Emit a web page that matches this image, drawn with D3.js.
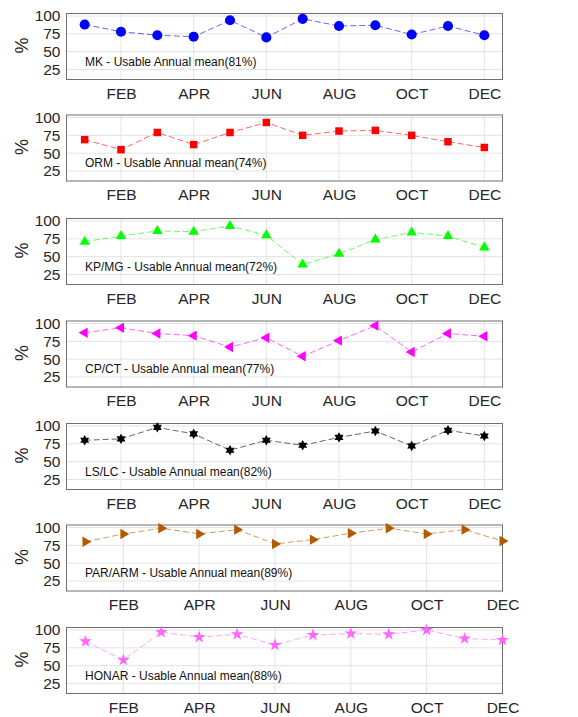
<!DOCTYPE html>
<html>
<head>
<meta charset="utf-8">
<script src="https://cdn.jsdelivr.net/npm/d3@7"></script>
<style>
  html, body { margin: 0; padding: 0; background: #fff; }
  svg { display: block; font-family: "Liberation Sans", Arial, sans-serif; }
</style>
</head>
<body>
<svg id="chart" width="578" height="717"></svg>
<script>
// Monthly usable percentage per station
const months = [1, 2, 3, 4, 5, 6, 7, 8, 9, 10, 11, 12];
const monthTicks = [2, 4, 6, 8, 10, 12];
const monthTickLabels = ["FEB", "APR", "JUN", "AUG", "OCT", "DEC"];
const yTicks = [25, 50, 75, 100];

const stations = ["MK", "ORM", "KP/MG", "CP/CT", "LS/LC", "PAR/ARM", "HONAR"];
const annualMeans = [81, 74, 72, 77, 82, 89, 88];

const mkValues    = [88, 78, 73, 71, 94, 70, 96, 86, 87, 74, 86, 73];
const ormValues   = [69, 55, 79, 62, 79, 93, 75, 81, 82, 75, 66, 58];
const kpmgValues  = [71, 79, 86, 85, 93, 80, 39, 54, 74, 84, 79, 63];
const cpctValues  = [87, 94, 86, 83, 67, 80, 54, 76, 97, 60, 86, 82];
const lslcValues  = [80, 82, 98, 89, 66, 80, 73, 84, 93, 72, 94, 86];
const pararmValues= [80, 91, 99, 91, 97, 77, 83, 92, 99, 91, 97, 81];
const honarValues = [84, 58, 97, 90, 94, 79, 93, 95, 94, 100, 88, 86];

const seriesValues = [mkValues, ormValues, kpmgValues, cpctValues, lslcValues, pararmValues, honarValues];
const seriesColors = ["#0000ff", "#ff0000", "#00ff00", "#ff00ff", "#000000", "#b35900", "#ff66ff"];

// Custom marker shapes
const hexagram = {
  draw(ctx, size) {
    const r = Math.sqrt(size) * 0.62;
    const ri = r * 0.58;
    for (let i = 0; i < 12; i++) {
      const a = -Math.PI / 2 + i * Math.PI / 6;
      const rr = i % 2 === 0 ? r : ri;
      const x = rr * Math.cos(a), y = rr * Math.sin(a);
      if (i === 0) ctx.moveTo(x, y); else ctx.lineTo(x, y);
    }
    ctx.closePath();
  }
};
function triangleDir(angleDeg) {
  return {
    draw(ctx, size) {
      const r = Math.sqrt(size) * 0.72;
      for (let i = 0; i < 3; i++) {
        const a = (angleDeg + i * 120) * Math.PI / 180;
        const x = r * Math.cos(a), y = r * Math.sin(a);
        if (i === 0) ctx.moveTo(x, y); else ctx.lineTo(x, y);
      }
      ctx.closePath();
    }
  };
}
const seriesSymbols = [
  { type: d3.symbolCircle, size: 80 },
  { type: d3.symbolSquare, size: 56 },
  { type: triangleDir(-90), size: 70 },
  { type: triangleDir(180), size: 70 },
  { type: hexagram, size: 70 },
  { type: triangleDir(0), size: 70 },
  { type: d3.symbolStar, size: 50 }
];
// Panels 6 and 7 end their month axis at December
const xDomainEnds = [12.5, 12.5, 12.5, 12.5, 12.5, 12, 12];
const panelTops = [13.5, 115, 218.5, 321, 423.5, 525, 627.5];

const svg = d3.select("#chart");
const plotLeft = 66.5, plotRight = 502.5, plotHeight = 66;
const textColor = "#262626";

stations.forEach((name, i) => {
  const top = panelTops[i];
  const g = svg.append("g").attr("transform", `translate(0,${top})`);

  const x = d3.scaleLinear().domain([0.5, xDomainEnds[i]]).range([plotLeft, plotRight]);
  const y = d3.scaleLinear().domain([11, 103.5]).range([plotHeight, 0]);

  // grid
  g.append("g").selectAll("line.v").data(monthTicks).join("line")
    .attr("x1", d => x(d)).attr("x2", d => x(d))
    .attr("y1", 0).attr("y2", plotHeight)
    .attr("stroke", "#e3e3e3").attr("stroke-width", 1);
  g.append("g").selectAll("line.h").data(yTicks).join("line")
    .attr("x1", plotLeft).attr("x2", plotRight)
    .attr("y1", d => y(d)).attr("y2", d => y(d))
    .attr("stroke", "#e3e3e3").attr("stroke-width", 1);

  // frame
  g.append("rect")
    .attr("x", plotLeft).attr("y", 0)
    .attr("width", plotRight - plotLeft).attr("height", plotHeight)
    .attr("fill", "none").attr("stroke", "#6e6e6e").attr("stroke-width", 1);

  // y axis labels
  const yAxis = d3.axisLeft(y).tickValues(yTicks).tickSize(0).tickPadding(6);
  const ya = g.append("g").attr("transform", `translate(${plotLeft},0)`).call(yAxis);
  ya.select(".domain").remove();
  ya.selectAll("text").attr("font-size", 15.5).attr("fill", textColor)
    .attr("font-family", "'Liberation Sans', Arial, sans-serif");

  // x axis labels
  const xAxis = d3.axisBottom(x).tickValues(monthTicks)
    .tickFormat((d, k) => monthTickLabels[k]).tickSize(0).tickPadding(8);
  const xa = g.append("g").attr("transform", `translate(0,${plotHeight})`).call(xAxis);
  xa.select(".domain").remove();
  xa.selectAll("text").attr("font-size", 15.5).attr("fill", textColor)
    .attr("font-family", "'Liberation Sans', Arial, sans-serif");

  // y axis title
  g.append("text")
    .attr("transform", `translate(22,${plotHeight / 2 - 1}) rotate(-90)`)
    .attr("text-anchor", "middle").attr("dominant-baseline", "central")
    .attr("font-size", 18).attr("fill", textColor)
    .text("%");

  // series line
  const vals = seriesValues[i];
  const pts = months.map((m, k) => [m, vals[k]]);
  const line = d3.line().x(d => x(d[0])).y(d => y(d[1]));
  g.append("path").datum(pts)
    .attr("d", line)
    .attr("fill", "none")
    .attr("stroke", seriesColors[i])
    .attr("stroke-opacity", 0.6)
    .attr("stroke-width", 1)
    .attr("stroke-dasharray", "6,3");

  // markers
  const sym = seriesSymbols[i];
  g.append("g").selectAll("path").data(pts).join("path")
    .attr("transform", d => `translate(${x(d[0])},${y(d[1])})`)
    .attr("d", d3.symbol().type(sym.type).size(sym.size))
    .attr("fill", seriesColors[i]);

  // annotation
  g.append("text")
    .attr("x", 85).attr("y", 52)
    .attr("font-size", 12).attr("fill", "#111")
    .text(`${name} - Usable Annual mean(${annualMeans[i]}%)`);
});
</script>
</body>
</html>
